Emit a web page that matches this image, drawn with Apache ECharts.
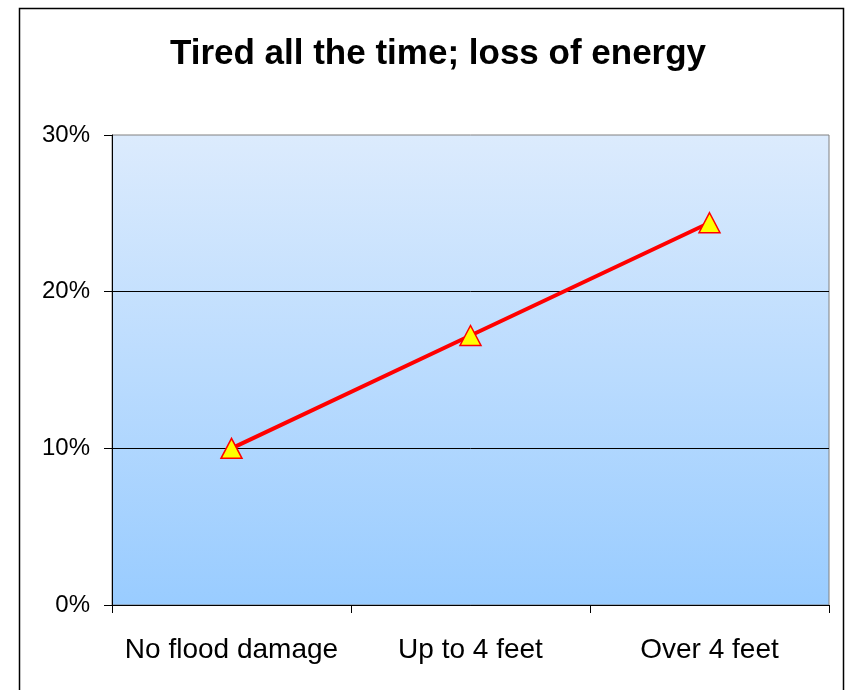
<!DOCTYPE html>
<html>
<head>
<meta charset="utf-8">
<script src="https://cdn.jsdelivr.net/npm/echarts@6/dist/echarts.min.js"></script>
<style>
  html, body { margin: 0; padding: 0; background: #ffffff; }
  #chart { width: 848px; height: 690px; }
</style>
</head>
<body>
<div id="chart"></div>
<script>
// Share of respondents reporting tiredness, by flood damage level
const categories = ['No flood damage', 'Up to 4 feet', 'Over 4 feet'];
const tiredShare = [10.0, 17.2, 24.4];
const yTicks = [0, 10, 20, 30];

const chart = echarts.init(document.getElementById('chart'), null, { renderer: 'canvas' });

const font = '"Liberation Sans", Arial, sans-serif';

chart.setOption({
  animation: false,
  backgroundColor: '#ffffff',
  title: {
    text: 'Tired all the time; loss of energy',
    left: 433,
    top: 32,
    textAlign: 'center',
    textStyle: { fontFamily: font, fontSize: 35, fontWeight: 'bold', color: '#000000' }
  },
  grid: {
    left: 112, top: 135, right: 19, bottom: 85,
    show: true,
    borderColor: '#808080',
    borderWidth: 1,
    backgroundColor: {
      type: 'linear', x: 0, y: 0, x2: 0, y2: 1,
      colorStops: [
        { offset: 0, color: '#dcebfd' },
        { offset: 1, color: '#99ccff' }
      ]
    }
  },
  graphic: [{
    type: 'rect',
    shape: { x: 19.5, y: 8.5, width: 824, height: 700 },
    style: { fill: 'none', stroke: '#000000', lineWidth: 1.5 },
    silent: true,
    z: 100
  }],
  xAxis: {
    type: 'category',
    data: categories,
    boundaryGap: true,
    axisLine: { show: true, lineStyle: { color: '#000000', width: 1 } },
    axisTick: { show: true, interval: 0, inside: false, length: 8, alignWithLabel: false, lineStyle: { color: '#000000' } },
    axisLabel: { interval: 0, hideOverlap: false, margin: 31, fontFamily: font, fontSize: 28, color: '#000000' },
    splitLine: { show: false }
  },
  yAxis: {
    type: 'value',
    min: yTicks[0],
    max: yTicks[yTicks.length - 1],
    interval: 10,
    axisLine: { show: true, lineStyle: { color: '#000000', width: 1 } },
    axisTick: { show: true, inside: false, length: 8, lineStyle: { color: '#000000' } },
    axisLabel: {
      margin: 22, fontFamily: font, fontSize: 24, color: '#000000',
      formatter: v => v + '%'
    },
    splitLine: { show: true, showMaxLine: false, lineStyle: { color: '#000000', width: 1 } }
  },
  series: [{
    type: 'line',
    data: tiredShare,
    symbol: 'triangle',
    symbolSize: [21, 20],
    itemStyle: { color: '#ffff00', borderColor: '#ff0000', borderWidth: 1.5 },
    lineStyle: { color: '#ff0000', width: 4 },
    z: 5
  }]
});
</script>
</body>
</html>
